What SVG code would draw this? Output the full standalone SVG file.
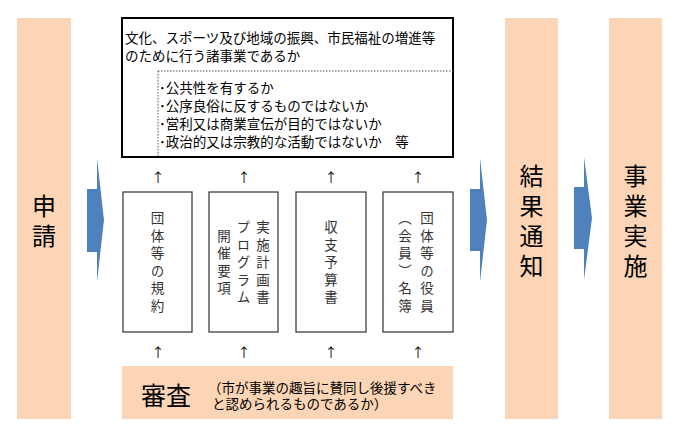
<svg xmlns="http://www.w3.org/2000/svg" width="680" height="437" viewBox="0 0 680 437">
<style>
.bar{fill:#FBD5B5;}
.arr{fill:#4F81BD;}
.t{font-family:"Noto Sans CJK JP","Noto Sans",sans-serif;fill:#000;}
.s{font-size:13.5px;}
.v{writing-mode:vertical-rl;text-anchor:middle;font-size:13.5px;letter-spacing:4px;fill:#333;}
.big{writing-mode:vertical-rl;text-anchor:middle;font-size:24px;letter-spacing:6px;}
.doc{fill:#fff;stroke:#404040;stroke-width:1.3;}
.up{font-size:13px;text-anchor:middle;}
</style>
<rect width="680" height="437" fill="#fff"/>
<g id="apply">
<rect class="bar" x="17" y="18" width="54" height="401"/>
<text class="t big" x="44" y="224">申請</text>
</g>
<g id="result">
<rect class="bar" x="505" y="18" width="53" height="401"/>
<text class="t big" x="531.5" y="224">結果通知</text>
</g>
<g id="implement">
<rect class="bar" x="609" y="18" width="53" height="401"/>
<text class="t big" x="635.5" y="224">事業実施</text>
</g>
<g id="criteria">
<rect x="122" y="18" width="331" height="139" fill="#fff" stroke="#000" stroke-width="2"/>
<path d="M158,71 H453 M158,71 V157" fill="none" stroke="#555" stroke-width="1" stroke-dasharray="1.5,1.5"/>
<text class="t s" x="125" y="43">文化、スポーツ及び地域の振興、市民福祉の増進等</text>
<text class="t s" x="125" y="61">のために行う諸事業であるか</text>
<text class="t s" x="159" y="93">･公共性を有するか</text>
<text class="t s" x="159" y="111">･公序良俗に反するものではないか</text>
<text class="t s" x="159" y="129">･営利又は商業宣伝が目的ではないか</text>
<text class="t s" x="159" y="147">･政治的又は宗教的な活動ではないか　等</text>
</g>
<g id="doc1">
<rect class="doc" x="123" y="192" width="69" height="140"/>
<text class="t v" x="157.5" y="264">団体等の規約</text>
</g>
<g id="doc2">
<rect class="doc" x="209" y="192" width="69" height="140"/>
<text class="t v" x="263" y="264">実施計画書</text>
<text class="t v" x="243.5" y="264">プログラム</text>
<text class="t v" x="224" y="264">開催要項</text>
</g>
<g id="doc3">
<rect class="doc" x="296" y="192" width="70" height="140"/>
<text class="t v" x="331" y="264">収支予算書</text>
</g>
<g id="doc4">
<rect class="doc" x="383" y="192" width="70" height="140"/>
<text class="t v" x="427" y="264">団体等の役員</text>
<text class="t v" x="405" y="264">（会員）名簿</text>
</g>
<g id="review">
<rect class="bar" x="122" y="366" width="331" height="53"/>
<text class="t" x="141" y="405" font-size="25">審査</text>
<text class="t s" x="208" y="393">（市が事業の趣旨に賛同し後援すべき</text>
<text class="t s" x="212" y="409">と認められるものであるか）</text>
</g>
<g id="connectors">
<polygon class="arr" points="87,189 97,189 97,158 104,220 97,282 97,252 87,252"/>
<polygon class="arr" points="470,189 480,189 480,158 487,220 480,282 480,251 470,251"/>
<polygon class="arr" points="574,187 584,187 584,157 592,218 584,280 584,249 574,249"/>
<text class="t up" x="158" y="182">↑</text>
<text class="t up" x="244" y="182">↑</text>
<text class="t up" x="331" y="182">↑</text>
<text class="t up" x="418" y="182">↑</text>
<text class="t up" x="158" y="357">↑</text>
<text class="t up" x="244" y="357">↑</text>
<text class="t up" x="331" y="357">↑</text>
<text class="t up" x="418" y="357">↑</text>
</g>
</svg>
